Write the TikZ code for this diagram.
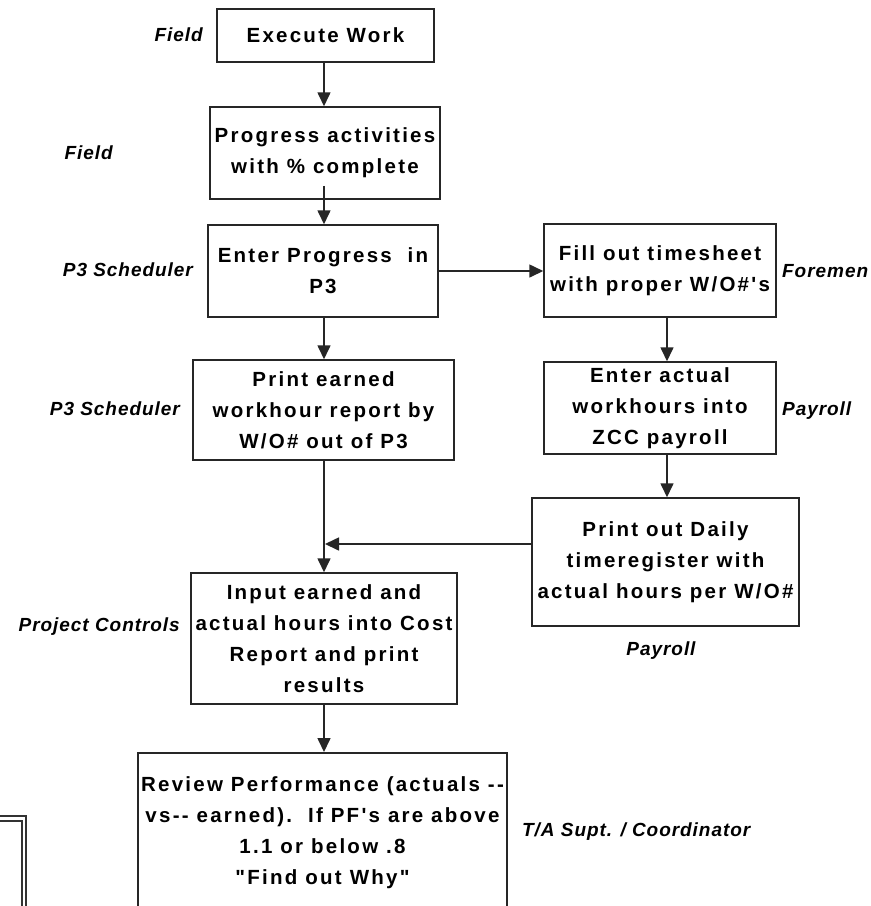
\documentclass[tikz,border=0pt]{standalone}
\usepackage{fontspec}
\setmainfont{Liberation Sans}
\newfontfamily\boxfont[LetterSpace=11]{Liberation Sans Bold}
\newfontfamily\labfont[LetterSpace=5]{Liberation Sans Bold Italic}
\usetikzlibrary{arrows.meta}
\begin{document}
\begin{tikzpicture}[x=1pt,y=-1pt,
  box/.style={draw=black!85, line width=1.5pt, inner sep=0pt, align=center,
    font=\boxfont\fontsize{20.5}{31}\selectfont},
  lab/.style={inner sep=0pt, font=\labfont\fontsize{19}{23}\selectfont},
  arr/.style={line width=1.6pt, draw=black!85, -{Triangle[width=13pt,length=14pt]}}]
\useasboundingbox (0,0) rectangle (871,906);
\fill[white] (0,0) rectangle (871,906);

% boxes
\node[box, minimum width=217, minimum height=53] (ex) at (325.5,35.5) {Execute Work};
\node[box, minimum width=230, minimum height=92] (pa) at (325,153) {Progress activities\\with \% complete};
\node[box, minimum width=230, minimum height=92] (ep) at (323,271) {Enter Progress\ \ in\\P3};
\node[box, minimum width=232, minimum height=93] (fill) at (660,270.5) {Fill out timesheet\\with proper W/O\#'s};
\node[box, minimum width=261, minimum height=100] (pe) at (323.5,410) {Print earned\\workhour report by\\W/O\# out of P3};
\node[box, minimum width=232, minimum height=92] (act) at (660,408) {Enter actual\\workhours into\\ZCC payroll};
\node[box, minimum width=267, minimum height=128] (daily) at (665.5,562) {Print out Daily\\timeregister with\\actual hours per W/O\#};
\node[box, minimum width=266, minimum height=131] (inp) at (324,638.5) {Input earned and\\actual hours into Cost\\Report and print\\results};
\node[box, minimum width=369, minimum height=160, anchor=north] (rev) at (322.5,752) {Review Performance (actuals -{}-\\vs-{}- earned).\ \ If PF's are above\\1.1 or below .8\\"Find out Why"};

% partial double box at lower left
\draw[line width=1.3pt, draw=black!80] (-5,816) -| (26,915);
\draw[line width=1.3pt, draw=black!80] (-5,821) -| (22,915);

% connectors
\coordinate (cL) at (324,0);
\coordinate (cR) at (667,0);
\coordinate (paIn) at ([yshift=14pt]pa.south);
\coordinate (join) at (325,544);
\draw[arr] (ex.south -| cL) -- (pa.north -| cL);
\draw[arr] (paIn -| cL) -- (ep.north -| cL);
\draw[arr] (ep.south -| cL) -- (pe.north -| cL);
\draw[arr] (ep.east) -- (ep.east -| fill.west);
\draw[arr] (fill.south -| cR) -- (act.north -| cR);
\draw[arr] (act.south -| cR) -- (daily.north -| cR);
\draw[arr] (pe.south -| cL) -- (inp.north -| cL);
\draw[arr] (daily.west |- join) -- (join);
\draw[arr] (inp.south -| cL) -- (rev.north -| cL);

% role labels
\node[lab, anchor=base east] (l1) at (203,41.5) {Field};
\node[lab, anchor=base east] (l2) at (113,159.5) {Field};
\node[lab, anchor=base east] (l3) at (193,276.5) {P3 Scheduler};
\node[lab, anchor=base east] (l4) at (180,415.5) {P3 Scheduler};
\node[lab, anchor=base east] (l5) at (180,631.5) {Project Controls};
\node[lab, anchor=base west] (l6) at (782,277.5) {Foremen};
\node[lab, anchor=base west] (l7) at (782,415.5) {Payroll};
\node[lab, anchor=base] (l8) at (661,655.5) {Payroll};
\node[lab, anchor=base west] (l9) at (522,836.5) {T/A Supt. / Coordinator};
\end{tikzpicture}
\end{document}
